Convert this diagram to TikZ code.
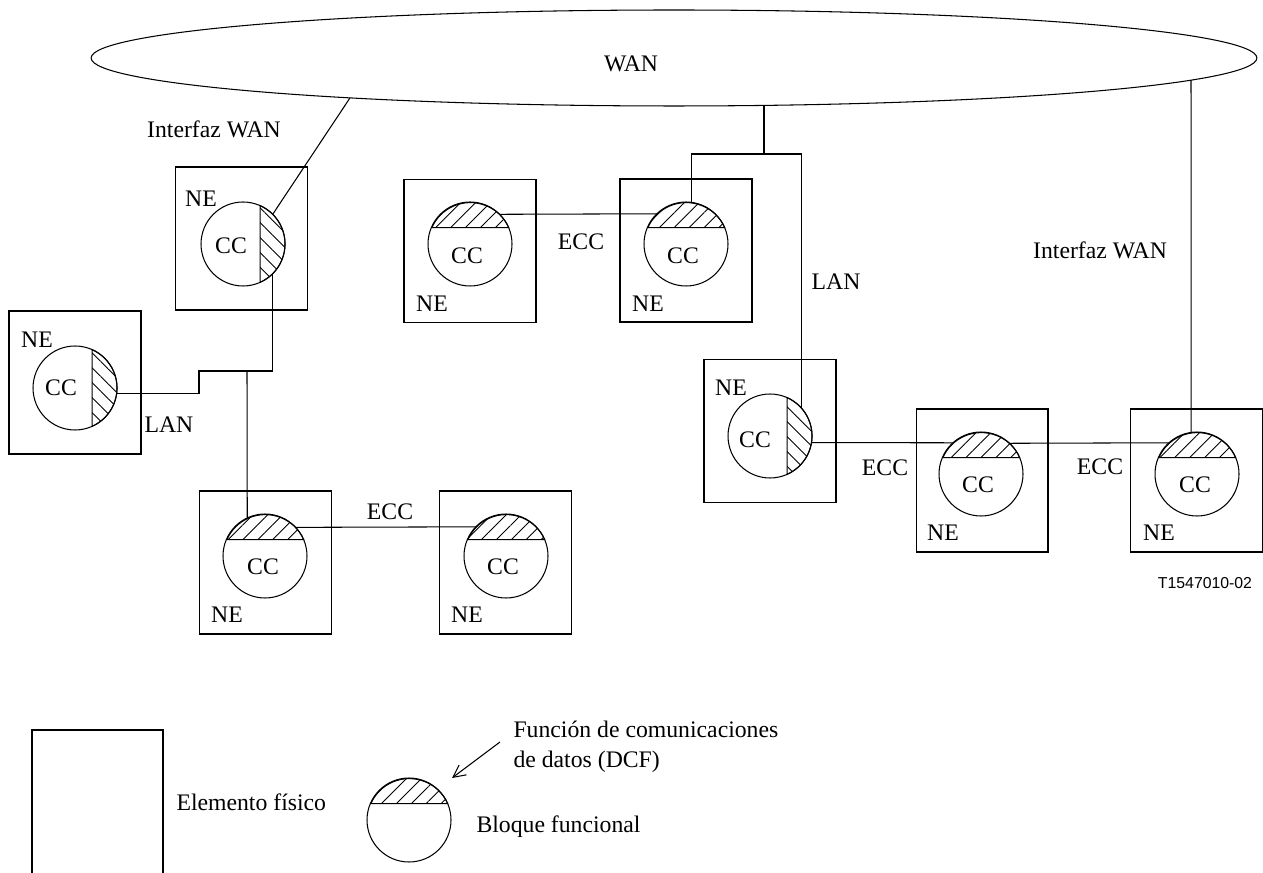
\documentclass[tikz,border=0pt]{standalone}
\usepackage{fontspec}
\setmainfont{Liberation Serif}
\newfontfamily\figsans{Liberation Sans}
\usetikzlibrary{shapes.geometric,patterns.meta,arrows.meta}

\begin{document}
\begin{tikzpicture}[x=0.02cm, y=0.02cm, line width=0.6pt,
    font=\fontsize{13.5}{17}\selectfont]
  \tikzset{ne/.style={draw, minimum width=2.64cm, minimum height=2.86cm, inner sep=0pt, outer sep=0pt},
           cc/.style={draw, circle, minimum size=1.68cm, inner sep=0pt, outer sep=0pt},
           dcftop/.style={pattern={Lines[angle=45, distance=6pt, line width=0.5pt]}},
           dcfside/.style={pattern={Lines[angle=-45, distance=6pt, line width=0.5pt]}}}
  \useasboundingbox (0,0) rectangle (1263,872);

  % WAN cloud
  \node[draw, ellipse, minimum width=23.32cm, minimum height=1.92cm, inner sep=0pt, outer sep=0pt] (wan) at (674,814) {};
  \node (wanlbl) at (631,808) {WAN};
  \coordinate (wana) at (350,774.1);
  \coordinate (wanb) at (764,766.6);
  \coordinate (wanc) at (1191,791.8);

  % network elements
  \node[ne] (ne1) at (241.5,633.5) {};
  \node[ne] (ne2) at (75,489.5) {};
  \node[ne] (ne3) at (265.5,309.5) {};
  \node[ne] (ne4) at (505.5,309.5) {};
  \node[ne] (ne5) at (470,621) {};
  \node[ne] (ne6) at (686,621.5) {};
  \node[ne] (ne7) at (770,441) {};
  \node[ne] (ne8) at (982,391.5) {};
  \node[ne] (ne9) at (1196.5,391.5) {};

  \node (ne1lbl) at (201,673) {NE};
  \node (ne2lbl) at (37,532) {NE};
  \node (ne3lbl) at (227,257) {NE};
  \node (ne4lbl) at (467,257) {NE};
  \node (ne5lbl) at (432,568) {NE};
  \node (ne6lbl) at (648,568) {NE};
  \node (ne7lbl) at (731,484) {NE};
  \node (ne8lbl) at (943,339) {NE};
  \node (ne9lbl) at (1159,339) {NE};

  % communication control blocks
  \node[cc] (cc1) at (243,628) {};
  \node[cc] (cc2) at (75,484) {};
  \node[cc] (cc3) at (265,316) {};
  \node[cc] (cc4) at (506,316) {};
  \node[cc] (cc5) at (470,628) {};
  \node[cc] (cc6) at (686,628) {};
  \node[cc] (cc7) at (770,436) {};
  \node[cc] (cc8) at (981,398) {};
  \node[cc] (cc9) at (1197,398) {};
  \node[cc] (cc0) at (409,52) {};

  \foreach \c in {cc0,cc3,cc4,cc5,cc6,cc8,cc9}
    \draw[dcftop] (\c.23.9) arc[start angle=23.9, end angle=156.1, radius=0.84cm] -- cycle;
  \foreach \c in {cc1,cc2,cc7}
    \draw[dcfside] (\c.-66.1) arc[start angle=-66.1, end angle=66.1, radius=0.84cm] -- cycle;

  \node (cc1lbl) at (231,626) {CC};
  \node (cc2lbl) at (61,484) {CC};
  \node (cc3lbl) at (263,305) {CC};
  \node (cc4lbl) at (503,305) {CC};
  \node (cc5lbl) at (467,616) {CC};
  \node (cc6lbl) at (683,616) {CC};
  \node (cc7lbl) at (755,432) {CC};
  \node (cc8lbl) at (978,387) {CC};
  \node (cc9lbl) at (1195,387) {CC};

  % WAN interfaces and LANs
  \coordinate (lanl) at (199,501);
  \coordinate (lanj) at (247,501);
  \coordinate (lanr) at (764,718);
  \draw (wana) -- (cc1.45);
  \draw (cc1.-46.3) |- (lanl) |- (cc2.-8.2);
  \draw (lanj) -- (cc3.115.4);
  \draw (wanb) -- (lanr);
  \draw (cc6.82) |- (lanr) -| (cc7.42.4);
  \draw (wanc) -- (cc9.98.2);

  % ECC links
  \draw (cc5.45.6) -- (cc6.134.4);
  \draw (cc3.43.6) -- (cc4.136.4);
  \draw (cc7.-9.6) -- (cc8.132.4);
  \draw (cc8.47.6) -- (cc9.132.4);

  \node (wanif1) at (214,743) {Interfaz WAN};
  \node (wanif2) at (1100,622) {Interfaz WAN};
  \node (lan1) at (169,447) {LAN};
  \node (lan2) at (836,590) {LAN};
  \node (ecc1) at (581,630) {ECC};
  \node (ecc2) at (390,360) {ECC};
  \node (ecc3) at (885,404) {ECC};
  \node (ecc4) at (1100,405) {ECC};
  \node[font=\figsans\fontsize{9}{11}\selectfont] (figid) at (1205,289) {T1547010-02};

  % legend
  \node[draw, anchor=north west, minimum width=2.62cm, minimum height=3cm, inner sep=0pt, outer sep=0pt] (phys) at (32,142) {};
  \node[anchor=west, inner sep=0pt] (physlbl) at (176,70) {Elemento físico};
  \node[anchor=west, inner sep=0pt, align=left] (dcf) at (513,125) {Función de comunicaciones\\de datos (DCF)};
  \node[anchor=west, inner sep=0pt] (fblbl) at (476,45) {Bloque funcional};
  \coordinate (dcffrom) at (500,130);
  \coordinate (dcftip) at (452,94);
  \draw[-{Straight Barb[length=7pt, width=7pt]}] (dcffrom) -- (dcftip);
\end{tikzpicture}
\end{document}
